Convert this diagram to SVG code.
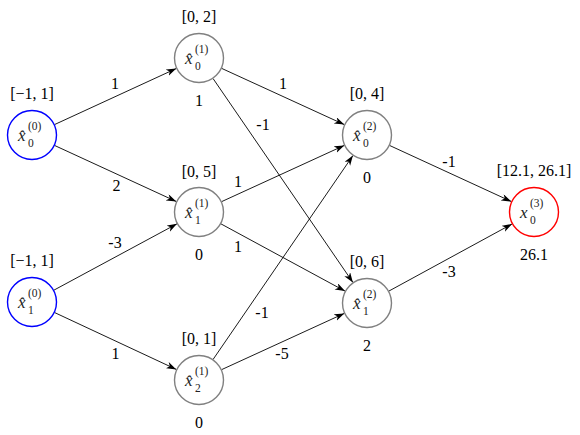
<svg xmlns="http://www.w3.org/2000/svg" width="580" height="435" viewBox="0 0 580 435" font-family="'Liberation Serif', 'DejaVu Serif', serif">
<defs>
<marker id="arr" markerUnits="userSpaceOnUse" markerWidth="11" markerHeight="8" refX="10" refY="3.5" orient="auto" viewBox="0 0 11 8">
<path d="M0,0 L10,3.5 L0,7 L2.8,3.5 Z" fill="#000"/>
</marker>
</defs>
<style>
.lbl{font-size:16px;text-anchor:middle;fill:#000;}
.nl{fill:#222;}
.x{font-size:17px;font-style:italic;}
.s{font-size:11.5px;font-style:normal;}
.node{fill:#fff;stroke-width:1.4;}
.gray{stroke:#808080;}
.blue{stroke:#0000ff;}
.red{stroke:#ff0000;}
.edge{stroke:#000;stroke-width:0.9;fill:none;marker-end:url(#arr);}
</style>
<rect width="580" height="435" fill="#fff"/>
<g id="connectors">
<line class="edge" x1="54.7" y1="124.5" x2="176.3" y2="68.5"/>
<line class="edge" x1="54.7" y1="145.5" x2="176.3" y2="201.5"/>
<line class="edge" x1="54.0" y1="290.1" x2="177.0" y2="223.8"/>
<line class="edge" x1="54.7" y1="312.6" x2="176.3" y2="369.4"/>
<line class="edge" x1="221.7" y1="68.4" x2="344.3" y2="124.6"/>
<line class="edge" x1="213.1" y1="78.6" x2="352.9" y2="282.4"/>
<line class="edge" x1="221.7" y1="201.6" x2="344.3" y2="145.4"/>
<line class="edge" x1="221.0" y1="223.9" x2="345.0" y2="291.1"/>
<line class="edge" x1="213.1" y1="359.4" x2="352.9" y2="155.6"/>
<line class="edge" x1="221.7" y1="369.6" x2="344.3" y2="313.4"/>
<line class="edge" x1="389.7" y1="145.5" x2="511.3" y2="201.5"/>
<line class="edge" x1="389.0" y1="291.0" x2="512.0" y2="224.0"/>
<text class="lbl" x="115" y="89">1</text>
<text class="lbl" x="116.5" y="191">2</text>
<text class="lbl" x="115" y="248">-3</text>
<text class="lbl" x="115.5" y="359">1</text>
<text class="lbl" x="283" y="89">1</text>
<text class="lbl" x="263" y="130">-1</text>
<text class="lbl" x="238" y="187">1</text>
<text class="lbl" x="238" y="252">1</text>
<text class="lbl" x="262" y="318">-1</text>
<text class="lbl" x="282" y="359">-5</text>
<text class="lbl" x="449" y="167">-1</text>
<text class="lbl" x="449" y="277">-3</text>
</g>
<g id="n_x0_0">
<circle class="node blue" cx="32" cy="135" r="24.5"/>
<text class="nl" x="18" y="141"><tspan class="x">x̂</tspan><tspan class="s" x="28" y="130">(0)</tspan><tspan class="s" x="28" y="147">0</tspan></text>
<text class="lbl" x="32" y="99">[−1, 1]</text>
</g>
<g id="n_x1_0">
<circle class="node blue" cx="32" cy="302" r="24.5"/>
<text class="nl" x="18" y="308"><tspan class="x">x̂</tspan><tspan class="s" x="28" y="297">(0)</tspan><tspan class="s" x="28" y="314">1</tspan></text>
<text class="lbl" x="32" y="266">[−1, 1]</text>
</g>
<g id="n_x0_1">
<circle class="node gray" cx="199" cy="58" r="24.5"/>
<text class="nl" x="185" y="64"><tspan class="x">x̂</tspan><tspan class="s" x="195" y="53">(1)</tspan><tspan class="s" x="195" y="70">0</tspan></text>
<text class="lbl" x="199" y="22">[0, 2]</text>
<text class="lbl" x="199" y="106">1</text>
</g>
<g id="n_x1_1">
<circle class="node gray" cx="199" cy="212" r="24.5"/>
<text class="nl" x="185" y="218"><tspan class="x">x̂</tspan><tspan class="s" x="195" y="207">(1)</tspan><tspan class="s" x="195" y="224">1</tspan></text>
<text class="lbl" x="199" y="177">[0, 5]</text>
<text class="lbl" x="199" y="260">0</text>
</g>
<g id="n_x2_1">
<circle class="node gray" cx="199" cy="380" r="24.5"/>
<text class="nl" x="185" y="386"><tspan class="x">x̂</tspan><tspan class="s" x="195" y="375">(1)</tspan><tspan class="s" x="195" y="392">2</tspan></text>
<text class="lbl" x="199" y="344">[0, 1]</text>
<text class="lbl" x="199" y="428">0</text>
</g>
<g id="n_x0_2">
<circle class="node gray" cx="367" cy="135" r="24.5"/>
<text class="nl" x="353" y="141"><tspan class="x">x̂</tspan><tspan class="s" x="363" y="130">(2)</tspan><tspan class="s" x="363" y="147">0</tspan></text>
<text class="lbl" x="367" y="99">[0, 4]</text>
<text class="lbl" x="367" y="183">0</text>
</g>
<g id="n_x1_2">
<circle class="node gray" cx="367" cy="303" r="24.5"/>
<text class="nl" x="353" y="309"><tspan class="x">x̂</tspan><tspan class="s" x="363" y="298">(2)</tspan><tspan class="s" x="363" y="315">1</tspan></text>
<text class="lbl" x="367" y="267">[0, 6]</text>
<text class="lbl" x="367" y="351">2</text>
</g>
<g id="n_x0_3">
<circle class="node red" cx="534" cy="212" r="24.5"/>
<text class="nl" x="520" y="218"><tspan class="x">x</tspan><tspan class="s" x="530" y="207">(3)</tspan><tspan class="s" x="530" y="224">0</tspan></text>
<text class="lbl" x="534" y="176">[12.1, 26.1]</text>
<text class="lbl" x="534" y="260">26.1</text>
</g>
</svg>
